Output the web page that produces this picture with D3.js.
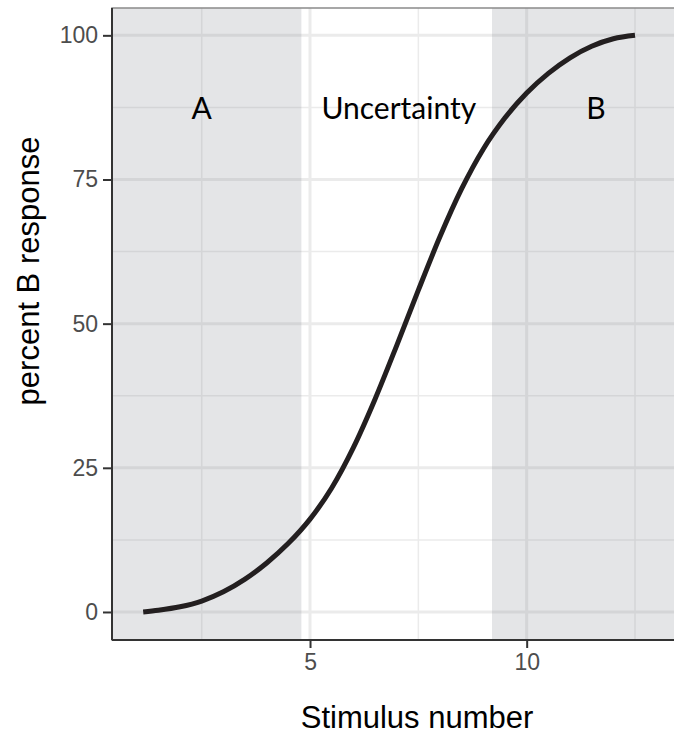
<!DOCTYPE html>
<html><head><meta charset="utf-8">
<script src="https://cdn.jsdelivr.net/npm/d3@7"></script>
<style>body{margin:0;background:#fff;} svg{display:block;}</style>
</head><body>
<svg id="chart" width="674" height="736"></svg>
<script>
// Data
const stimulus = [1.15,1.5,2,2.5,3,3.5,4,4.5,5,5.5,6,6.5,7,7.5,8,8.5,9,9.5,10,10.5,11,11.5,12,12.5];
const percentB = [0,0.3,0.9,1.9,3.5,5.7,8.5,11.9,16.1,21.5,28.5,36.9,46.2,55.8,65.1,73.4,80.3,85.7,90.0,93.4,96.1,98.1,99.4,100];
const regionNames = ["A","B"];
const regionStart = [-Infinity, 9.2];
const regionEnd = [4.8, Infinity];
const labelText = ["A","Uncertainty","B"];
const labelX = [2.5, 7.05, 11.6];
const labelY = [87.5, 87.5, 87.5];
const xTicks = [5,10];
const xMinor = [2.5,7.5,12.5];
const yTicks = [0,25,50,75,100];
const yMinor = [12.5,37.5,62.5,87.5];

const svg = d3.select("#chart");
const L=112, R=674, T=8, B=640;
const x = d3.scaleLinear().domain([0.43,13.4]).range([L,R]);
const y = d3.scaleLinear().domain([-4.86,104.74]).range([B,T]);

svg.append("rect").attr("x",L).attr("y",T).attr("width",R-L).attr("height",B-T).attr("fill","#fff");
const g = svg.append("g");
g.selectAll(".ymin").data(yMinor).join("line").attr("x1",L).attr("x2",R)
  .attr("y1",d=>y(d)).attr("y2",d=>y(d)).attr("stroke","#ebebeb").attr("stroke-width",1.5);
g.selectAll(".xmin").data(xMinor).join("line").attr("y1",T).attr("y2",B)
  .attr("x1",d=>x(d)).attr("x2",d=>x(d)).attr("stroke","#ebebeb").attr("stroke-width",1.5);
g.selectAll(".ymaj").data(yTicks).join("line").attr("x1",L).attr("x2",R)
  .attr("y1",d=>y(d)).attr("y2",d=>y(d)).attr("stroke","#ebebeb").attr("stroke-width",3);
g.selectAll(".xmaj").data(xTicks).join("line").attr("y1",T).attr("y2",B)
  .attr("x1",d=>x(d)).attr("x2",d=>x(d)).attr("stroke","#ebebeb").attr("stroke-width",3);

const clampX = v => Math.max(L, Math.min(R, isFinite(v) ? x(v) : (v<0?L:R)));
svg.selectAll(".reg").data(regionNames).join("rect")
  .attr("x",(d,i)=>clampX(regionStart[i]))
  .attr("width",(d,i)=>clampX(regionEnd[i])-clampX(regionStart[i]))
  .attr("y",T).attr("height",B-T)
  .attr("fill","rgb(120,125,135)").attr("fill-opacity",0.2);

const line = d3.line().x(d=>x(d[0])).y(d=>y(d[1])).curve(d3.curveMonotoneX);
svg.append("path").datum(stimulus.map((s,i)=>[s,percentB[i]]))
  .attr("d",line).attr("fill","none").attr("stroke","#231f20").attr("stroke-width",5);

svg.selectAll(".lab").data(labelText).join("text")
  .attr("x",(d,i)=>x(labelX[i])).attr("y",(d,i)=>y(labelY[i]))
  .attr("text-anchor","middle").attr("dominant-baseline","central")
  .attr("font-family","Lato, 'Open Sans', sans-serif").attr("font-size",30).attr("fill","#000")
  .text(d=>d);

svg.append("rect").attr("x",L).attr("y",T).attr("width",R-L+2).attr("height",B-T)
  .attr("fill","none").attr("stroke","#8a8a8a").attr("stroke-width",1.5);

const xAxis = d3.axisBottom(x).tickValues(xTicks).tickSize(8).tickPadding(6).tickFormat(d3.format("d"));
const yAxis = d3.axisLeft(y).tickValues(yTicks).tickSize(9).tickPadding(5).tickFormat(d3.format("d"));
const gx = svg.append("g").attr("transform",`translate(0,${B})`).call(xAxis);
const gy = svg.append("g").attr("transform",`translate(${L},0)`).call(yAxis);
[gx,gy].forEach(a=>{
  a.attr("font-family","'Liberation Sans', Arial, sans-serif");
  a.select(".domain").attr("stroke","#333").attr("stroke-width",2);
  a.selectAll(".tick line").attr("stroke","#333").attr("stroke-width",2);
  a.selectAll(".tick text").attr("fill","#4d4d4d").attr("font-size",23)
    .attr("font-family","'Liberation Sans', Arial, sans-serif");
});
gx.select(".domain").attr("d",`M${L},0H${R}`);
gy.select(".domain").attr("d",`M0,${T}V${B}`);

svg.append("text").attr("x",417).attr("y",728).attr("text-anchor","middle")
  .attr("font-family","'Liberation Sans', Arial, sans-serif").attr("font-size",31).attr("fill","#000")
  .text("Stimulus number");
svg.append("text").attr("transform","translate(39,271) rotate(-90)").attr("text-anchor","middle")
  .attr("font-family","'Liberation Sans', Arial, sans-serif").attr("font-size",31).attr("fill","#000")
  .text("percent B response");
</script>
</body></html>
